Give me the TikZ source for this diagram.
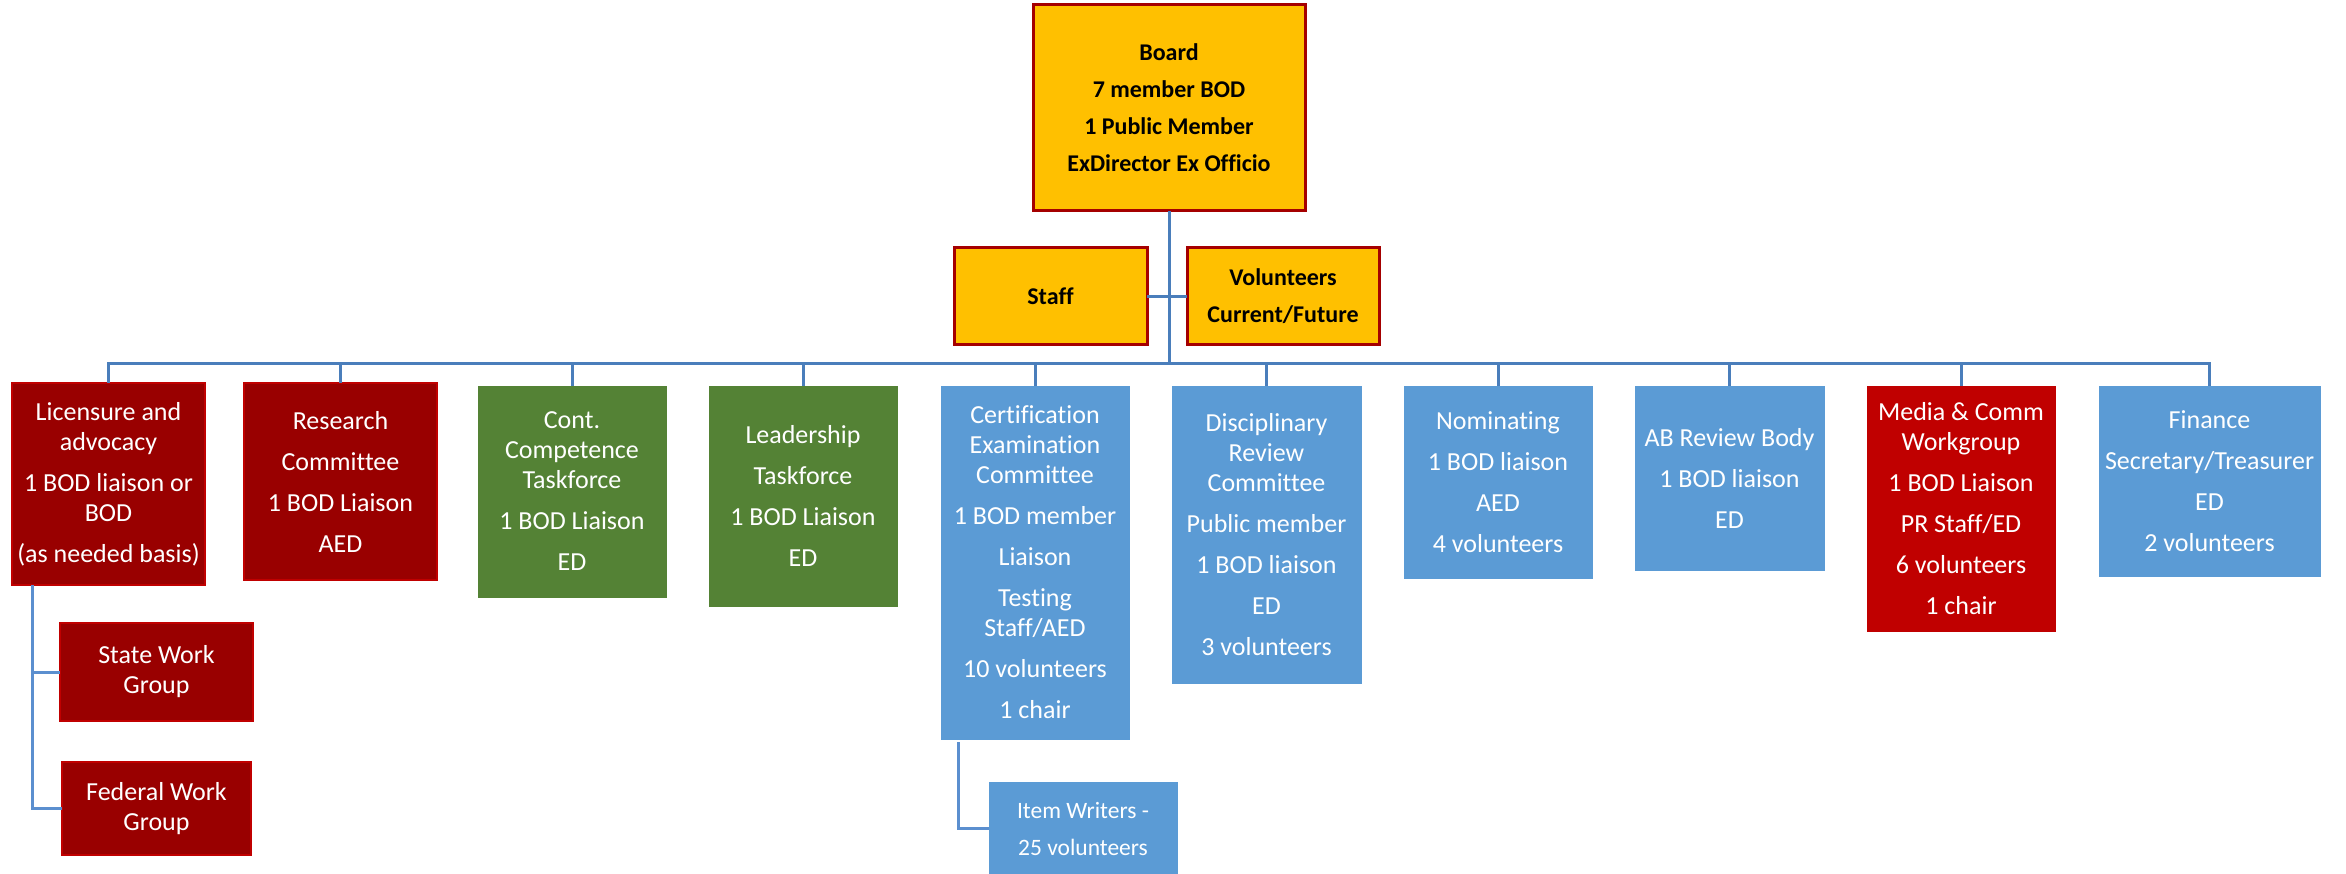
\documentclass[tikz,border=0pt]{standalone}
\usepackage{fontspec}
\setmainfont{Carlito}[Ligatures=NoCommon]
\definecolor{gold}{HTML}{FFC000}
\definecolor{goldedge}{HTML}{A50000}
\definecolor{dred}{HTML}{990000}
\definecolor{dredge}{HTML}{C00000}
\definecolor{mred}{HTML}{C00000}
\definecolor{mgreen}{HTML}{548235}
\definecolor{mblue}{HTML}{5B9BD5}
\definecolor{conn}{HTML}{4A7EBB}
\definecolor{conntwo}{HTML}{5B8FCF}
\begin{document}
\begin{tikzpicture}[x=1pt,y=-1pt,
 base/.style={anchor=north west, inner sep=0pt, outer sep=0pt, align=center, text=white, font=\fontsize{26}{30}\selectfont},
 goldbox/.style={base, fill=gold, draw=goldedge, line width=3pt, text=black, font=\bfseries\fontsize{24}{37}\selectfont},
 redbox/.style={base, fill=dred, draw=dredge, line width=1.5pt},
 mediabox/.style={base, fill=mred, draw=mred},
 greenbox/.style={base, fill=mgreen, draw=mgreen},
 bluebox/.style={base, fill=mblue, draw=mblue},
 link/.style={draw=conn, line width=3pt},
 sublink/.style={draw=conntwo, line width=3pt}]
\useasboundingbox (0,0) rectangle (2346,874);

\node[goldbox, minimum width=272, minimum height=206] (board) at (1033,5) {Board\\7 member BOD\\1 Public Member\\ExDirector Ex Officio};
\node[goldbox, minimum width=193, minimum height=97] (staff) at (954,248) {Staff};
\node[goldbox, minimum width=192, minimum height=97] (vol) at (1187,248) {Volunteers\\Current/Future};

\node[redbox, minimum width=193, minimum height=202] (lic) at (12,383) {Licensure and\\advocacy\\[11pt]1 BOD liaison or\\BOD\\[11pt](as needed basis)};
\node[redbox, minimum width=193, minimum height=197] (res) at (244,383) {Research\\[11pt]Committee\\[11pt]1 BOD Liaison\\[11pt]AED};
\node[greenbox, minimum width=188, minimum height=211] (cont) at (478,386) {Cont.\\Competence\\Taskforce\\[11pt]1 BOD Liaison\\[11pt]ED};
\node[greenbox, minimum width=188, minimum height=220] (lead) at (709,386) {Leadership\\[11pt]Taskforce\\[11pt]1 BOD Liaison\\[11pt]ED};
\node[bluebox, minimum width=188, minimum height=353] (cert) at (941,386) {Certification\\Examination\\Committee\\[11pt]1 BOD member\\[11pt]Liaison\\[11pt]Testing\\Staff/AED\\[11pt]10 volunteers\\[11pt]1 chair};
\node[bluebox, minimum width=189, minimum height=297] (disc) at (1172,386) {Disciplinary\\Review\\Committee\\[11pt]Public member\\[11pt]1 BOD liaison\\[11pt]ED\\[11pt]3 volunteers};
\node[bluebox, minimum width=188, minimum height=192] (nom) at (1404,386) {Nominating\\[11pt]1 BOD liaison\\[11pt]AED\\[11pt]4 volunteers};
\node[bluebox, minimum width=189, minimum height=184] (ab) at (1635,386) {AB Review Body\\[11pt]1 BOD liaison\\[11pt]ED};
\node[mediabox, minimum width=188, minimum height=245] (media) at (1867,386) {Media \& Comm\\Workgroup\\[11pt]1 BOD Liaison\\[11pt]PR Staff/ED\\[11pt]6 volunteers\\[11pt]1 chair};
\node[bluebox, minimum width=221, minimum height=190] (fin) at (2099,386) {Finance\\[11pt]Secretary/Treasurer\\[11pt]ED\\[11pt]2 volunteers};
\node[redbox, minimum width=193, minimum height=98] (state) at (60,623) {State Work\\Group};
\node[redbox, minimum width=189, minimum height=93] (fed) at (62,762) {Federal Work\\Group};
\node[bluebox, minimum width=188, minimum height=93, font=\fontsize{23.5}{37}\selectfont] (item) at (989,782) {Item Writers -\\25 volunteers};

\coordinate (bus) at (1169,364);
\draw[link] (board.south) -- (board.south |- bus);
\draw[link] (staff.east) -- (vol.west);
\draw[link] (lic.north) -- (lic.north |- bus) -- (fin.north |- bus) -- (fin.north);
\foreach \n in {res,cont,lead,cert,disc,nom,ab,media}
  \draw[link] (\n.north) -- (\n.north |- bus);
\draw[sublink] ([xshift=20pt]lic.south west) |- (state.west);
\draw[sublink] ([xshift=20pt]lic.south west) |- (fed.west);
\draw[sublink] ([xshift=17pt,yshift=-3pt]cert.south west) |- (item.west);
\end{tikzpicture}
\end{document}
